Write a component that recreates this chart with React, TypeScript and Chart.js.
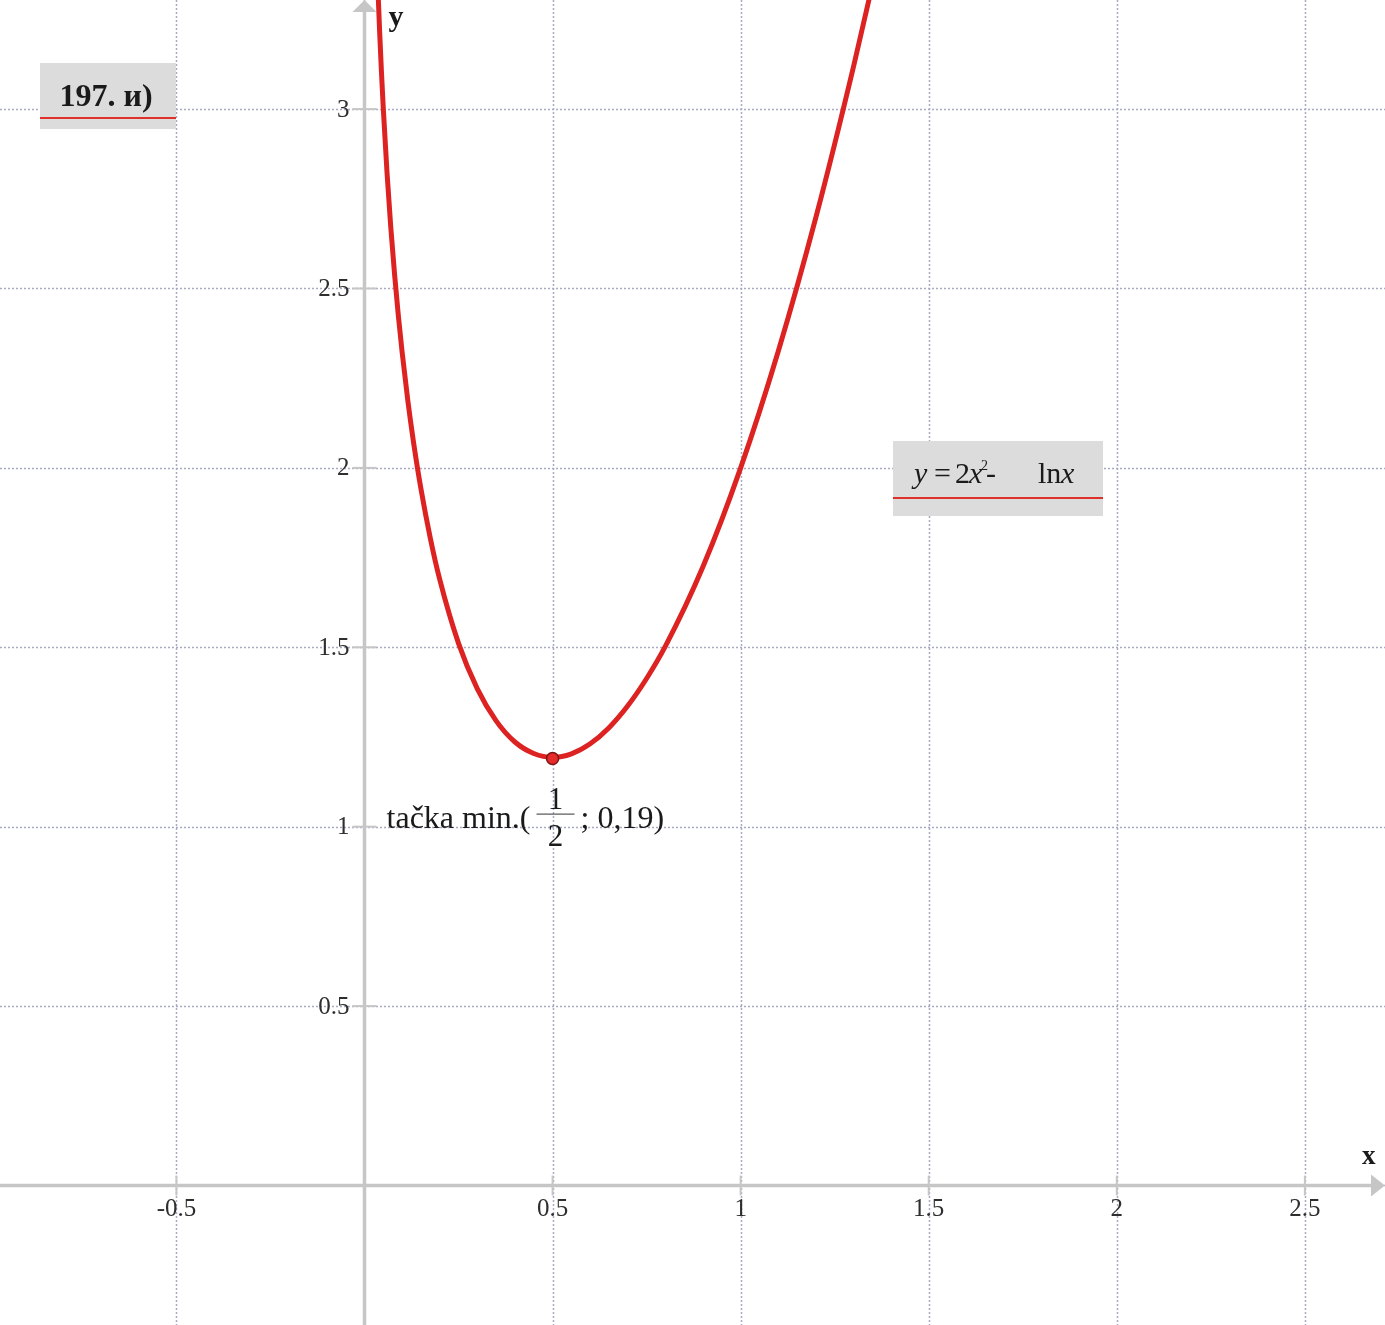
import React, { useEffect, useRef } from "react";
import { Chart, registerables } from "chart.js";

Chart.register(...registerables);

// Curve y = 2x² − ln x
const CURVE_X = [0.03, 0.035, 0.04, 0.045, 0.05, 0.06, 0.07, 0.08, 0.09, 0.1, 0.115, 0.13, 0.15, 0.175, 0.2, 0.25, 0.3, 0.35, 0.4, 0.45, 0.5, 0.55, 0.6, 0.65, 0.7, 0.75, 0.8, 0.9, 1.0, 1.1, 1.2, 1.3, 1.36];
const CURVE_Y = [3.509, 3.355, 3.222, 3.105, 3.001, 2.821, 2.669, 2.539, 2.424, 2.323, 2.189, 2.074, 1.942, 1.804, 1.689, 1.511, 1.384, 1.295, 1.236, 1.204, 1.193, 1.203, 1.231, 1.276, 1.337, 1.413, 1.503, 1.725, 2.0, 2.325, 2.698, 3.118, 3.392];

const MIN_X = [0.5];
const MIN_Y = [1.19];

const GRID_X = [-0.5, 0, 0.5, 1, 1.5, 2, 2.5];
const GRID_Y = [0, 0.5, 1, 1.5, 2, 2.5, 3];
const X_TICK_VALUES = [-0.5, 0.5, 1, 1.5, 2, 2.5];
const X_TICK_LABELS = ["-0.5", "0.5", "1", "1.5", "2", "2.5"];
const Y_TICK_VALUES = [0.5, 1, 1.5, 2, 2.5, 3];
const Y_TICK_LABELS = ["0.5", "1", "1.5", "2", "2.5", "3"];

const TITLE = "197. и)";
const MIN_LABEL_LEFT = "tačka min.(";
const MIN_LABEL_NUM = "1";
const MIN_LABEL_DEN = "2";
const MIN_LABEL_RIGHT = "; 0,19)";

const SERIF = '"Liberation Serif", "DejaVu Serif", serif';
const AXIS_COLOR = "#c6c6c6";
const GRID_COLOR = "#a9aac4";
const RED = "#dd2222";
const BOX_BG = "#dcdcdc";

const backdropPlugin = {
  id: "backdrop",
  beforeDraw(chart: any) {
    const ctx = chart.ctx;
    ctx.save();
    ctx.fillStyle = "#ffffff";
    ctx.fillRect(0, 0, chart.width, chart.height);
    ctx.restore();
  },
  beforeDatasetsDraw(chart: any) {
    const { ctx, chartArea } = chart;
    const xs = chart.scales.x;
    const ys = chart.scales.y;
    const { left, right, top, bottom } = chartArea;
    ctx.save();
    // grid
    ctx.strokeStyle = GRID_COLOR;
    ctx.lineWidth = 1.5;
    ctx.setLineDash([2, 2]);
    GRID_X.forEach((v) => {
      const p = Math.round(xs.getPixelForValue(v)) + 0.5;
      ctx.beginPath();
      ctx.moveTo(p, top);
      ctx.lineTo(p, bottom);
      ctx.stroke();
    });
    GRID_Y.forEach((v) => {
      const p = Math.round(ys.getPixelForValue(v)) + 0.5;
      ctx.beginPath();
      ctx.moveTo(left, p);
      ctx.lineTo(right, p);
      ctx.stroke();
    });
    ctx.setLineDash([]);
    // axes
    const x0 = xs.getPixelForValue(0);
    const y0 = ys.getPixelForValue(0);
    ctx.strokeStyle = AXIS_COLOR;
    ctx.fillStyle = AXIS_COLOR;
    ctx.lineWidth = 3.5;
    ctx.beginPath();
    ctx.moveTo(x0, bottom);
    ctx.lineTo(x0, top + 10);
    ctx.stroke();
    ctx.beginPath();
    ctx.moveTo(left, y0);
    ctx.lineTo(right - 12, y0);
    ctx.stroke();
    // arrows
    ctx.beginPath();
    ctx.moveTo(x0, top);
    ctx.lineTo(x0 - 12, top + 12);
    ctx.lineTo(x0 + 12, top + 12);
    ctx.closePath();
    ctx.fill();
    ctx.beginPath();
    ctx.moveTo(right, y0);
    ctx.lineTo(right - 14, y0 - 11);
    ctx.lineTo(right - 14, y0 + 11);
    ctx.closePath();
    ctx.fill();
    // tick marks
    ctx.lineWidth = 2;
    X_TICK_VALUES.forEach((v) => {
      const p = xs.getPixelForValue(v);
      ctx.beginPath();
      ctx.moveTo(p, y0 - 10);
      ctx.lineTo(p, y0 + 10);
      ctx.stroke();
    });
    Y_TICK_VALUES.forEach((v) => {
      const p = ys.getPixelForValue(v);
      ctx.beginPath();
      ctx.moveTo(x0 - 12, p);
      ctx.lineTo(x0 + 12, p);
      ctx.stroke();
    });
    // tick labels
    ctx.fillStyle = "#2e2e2e";
    ctx.font = `25px ${SERIF}`;
    ctx.textAlign = "center";
    ctx.textBaseline = "middle";
    X_TICK_VALUES.forEach((v, i) => {
      ctx.fillText(X_TICK_LABELS[i], xs.getPixelForValue(v), y0 + 24);
    });
    ctx.textAlign = "right";
    Y_TICK_VALUES.forEach((v, i) => {
      ctx.fillText(Y_TICK_LABELS[i], x0 - 15, ys.getPixelForValue(v) + 1);
    });
    ctx.restore();
  },
  afterDatasetsDraw(chart: any) {
    const { ctx, chartArea } = chart;
    const xs = chart.scales.x;
    const ys = chart.scales.y;
    const x0 = xs.getPixelForValue(0);
    const y0 = ys.getPixelForValue(0);
    ctx.save();
    ctx.fillStyle = "#1a1a1a";
    ctx.textBaseline = "alphabetic";
    // axis names
    ctx.font = `bold 30px ${SERIF}`;
    ctx.textAlign = "left";
    ctx.fillText("y", x0 + 24, chartArea.top + 26);
    ctx.font = `bold 27px ${SERIF}`;
    ctx.fillText("x", chartArea.right - 23, y0 - 21);

    // title box
    const bx = chartArea.left + 40;
    const by = chartArea.top + 63;
    ctx.fillStyle = BOX_BG;
    ctx.fillRect(bx, by, 136, 66);
    ctx.fillStyle = "#e0302a";
    ctx.fillRect(bx, by + 54, 136, 2);
    ctx.fillStyle = "#1a1a1a";
    ctx.font = `bold 32px ${SERIF}`;
    ctx.textAlign = "center";
    ctx.fillText(TITLE, bx + 66, by + 43);

    // formula box
    const fx = chartArea.left + 893;
    const fy = chartArea.top + 441;
    ctx.fillStyle = BOX_BG;
    ctx.fillRect(fx, fy, 210, 75);
    ctx.fillStyle = "#e0302a";
    ctx.fillRect(fx, fy + 56, 210, 2);
    ctx.fillStyle = "#1a1a1a";
    ctx.textAlign = "left";
    const base = fy + 42;
    const pieces: [string, string, number, number][] = [
      ["y", `italic 30px ${SERIF}`, 21, 0],
      ["=", `30px ${SERIF}`, 41, 0],
      ["2", `30px ${SERIF}`, 62, 0],
      ["x", `italic 30px ${SERIF}`, 76, 0],
      ["2", `14px ${SERIF}`, 88, -13],
      ["-", `30px ${SERIF}`, 93, 0],
      ["ln", `30px ${SERIF}`, 145, 0],
      ["x", `italic 30px ${SERIF}`, 168, 0],
    ];
    pieces.forEach(([t, f, dx, dy]) => {
      ctx.font = f;
      ctx.fillText(t, fx + dx, base + dy);
    });

    // min label anchored to the min point
    const px = xs.getPixelForValue(MIN_X[0]);
    const py = ys.getPixelForValue(MIN_Y[0]);
    const lx = px - 166;
    const lb = py + 69;
    ctx.font = `32px ${SERIF}`;
    ctx.fillText(MIN_LABEL_LEFT, lx, lb);
    const w1 = ctx.measureText(MIN_LABEL_LEFT).width;
    const fs = lx + w1 + 6;
    const fw = 38;
    ctx.fillStyle = "#555";
    ctx.fillRect(fs, lb - 14, fw, 1.2);
    ctx.fillStyle = "#1a1a1a";
    ctx.font = `31px ${SERIF}`;
    ctx.textAlign = "center";
    ctx.fillText(MIN_LABEL_NUM, fs + fw / 2, lb - 19);
    ctx.fillText(MIN_LABEL_DEN, fs + fw / 2, lb + 18);
    ctx.textAlign = "left";
    ctx.font = `32px ${SERIF}`;
    ctx.fillText(MIN_LABEL_RIGHT, fs + fw + 6, lb);
    ctx.restore();
  },
};

export default function App() {
  const canvasRef = useRef<HTMLCanvasElement | null>(null);

  useEffect(() => {
    document.body.style.margin = "0";
    document.body.style.overflow = "hidden";
    const canvas = canvasRef.current;
    if (!canvas) return;
    const chart = new Chart(canvas, {
      type: "scatter",
      data: {
        datasets: [
          {
            data: MIN_X.map((x, i) => ({ x, y: MIN_Y[i] })),
            pointRadius: 6,
            pointBackgroundColor: "#e62a2a",
            pointBorderColor: "#7a1414",
            pointBorderWidth: 1.5,
            showLine: false,
            order: 1,
          },
          {
            data: CURVE_X.map((x, i) => ({ x, y: CURVE_Y[i] })),
            showLine: true,
            borderColor: RED,
            borderWidth: 5,
            pointRadius: 0,
            cubicInterpolationMode: "monotone",
            order: 2,
          },
        ],
      },
      options: {
        responsive: false,
        animation: false,
        devicePixelRatio: 1,
        layout: { padding: 0, autoPadding: false },
        plugins: {
          legend: { display: false },
          tooltip: { enabled: false },
        },
        scales: {
          x: { type: "linear", min: -0.969, max: 2.713, display: false },
          y: { type: "linear", min: -0.3888, max: 3.304, display: false },
        },
      },
      plugins: [backdropPlugin],
    } as any);
    return () => chart.destroy();
  }, []);

  return (
    <div style={{ position: "absolute", left: 0, top: 0, width: 1385, height: 1325, background: "#fff" }}>
      <canvas ref={canvasRef} width={1385} height={1325} style={{ display: "block", width: 1385, height: 1325 }} />
    </div>
  );
}
